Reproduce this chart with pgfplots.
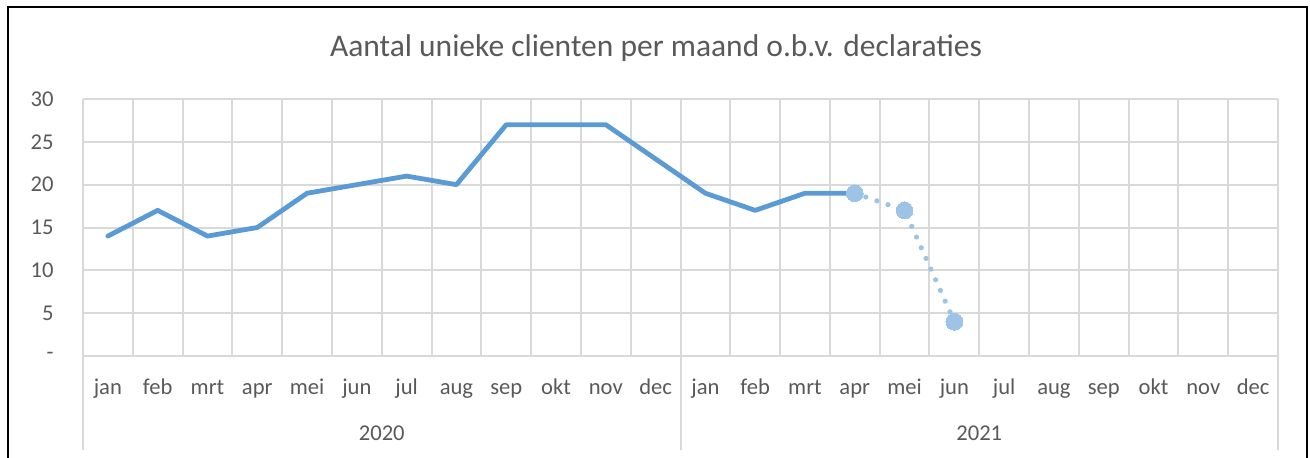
\documentclass[border=0pt]{standalone}
\usepackage{pgfplots}
\pgfplotsset{compat=1.18}
\usepackage{fontspec}
\setmainfont{Carlito}
\definecolor{txt}{HTML}{595959}
\definecolor{gridc}{HTML}{D9D9D9}
\definecolor{blueA}{HTML}{5B9BD5}
\definecolor{blueB}{HTML}{9DC3E6}
\begin{document}
\begin{tikzpicture}[x=1pt,y=1pt]
\useasboundingbox (0,0) rectangle (655,228.5);
\draw[black, line width=1pt] (3.75,-5) -- (3.75,225) -- (653.3,225) -- (653.3,-5);
\node[anchor=base, font=\fontsize{15.75}{18}\selectfont, text=txt] at (328,200.5) {Aantal unieke clienten per maand o.b.v. declaraties};
\begin{axis}[
  at={(41.5pt,50.5pt)}, anchor=south west,
  scale only axis, width=597.5pt, height=128.5pt,
  xmin=0, xmax=24, ymin=0, ymax=30,
  axis line style={draw=none},
  xtick={0.5,1.5,...,23.5},
  xticklabels={jan,feb,mrt,apr,mei,jun,jul,aug,sep,okt,nov,dec,jan,feb,mrt,apr,mei,jun,jul,aug,sep,okt,nov,dec},
  minor xtick={0,1,...,24},
  xminorgrids=true, xmajorgrids=false, ymajorgrids=true,
  ytick={0,5,...,30}, yticklabels={-,5,10,15,20,25,30},
  major tick length=0pt, minor tick length=0pt,
  grid style={draw=gridc, line width=1pt},
  minor grid style={draw=gridc, line width=1pt},
  major grid style={draw=gridc, line width=1pt},
  tick label style={font=\fontsize{11.3}{13}\selectfont, text=txt},
  xticklabel style={anchor=base, inner sep=0pt, yshift=-19pt},
  yticklabel style={anchor=east, inner sep=0pt, xshift=-14.5pt},
  clip=false,
]
\addplot[color=blueA, line width=2.4pt, line join=round, line cap=round] coordinates {
(0.5,14)(1.5,17)(2.5,14)(3.5,15)(4.5,19)(5.5,20)(6.5,21)(7.5,20)(8.5,27)(9.5,27)(10.5,27)(11.5,23)
(12.5,19)(13.5,17)(14.5,19)(15.5,19)};
\addplot[color=blueB, line width=2.6pt, line cap=round, dash pattern=on 0pt off 5.85pt,
  mark=*, mark size=4.2pt, mark options={solid, fill=blueB, draw=blueB, line width=0pt}] coordinates {
(15.5,19)(16.5,17)(17.5,4)};
\node[anchor=base, inner sep=0pt, yshift=-42pt, font=\fontsize{11.3}{13}\selectfont, text=txt] at (axis cs:6,0) {2020};
\node[anchor=base, inner sep=0pt, yshift=-42pt, font=\fontsize{11.3}{13}\selectfont, text=txt] at (axis cs:18,0) {2021};
\draw[gridc, line width=1pt] (axis cs:0,0) -- ++(0,-47pt);
\draw[gridc, line width=1pt] (axis cs:12,0) -- ++(0,-47pt);
\draw[gridc, line width=1pt] (axis cs:24,0) -- ++(0,-47pt);
\end{axis}
\end{tikzpicture}
\end{document}
